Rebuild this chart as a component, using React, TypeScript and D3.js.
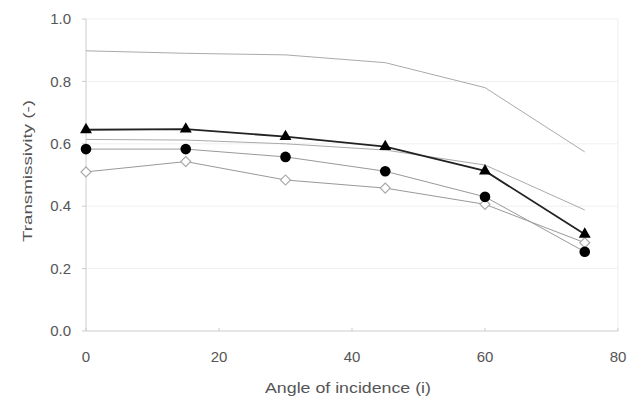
import React from "react";
import * as d3 from "d3";

const angles = [0, 15, 30, 45, 60, 75];
const topGray = [0.898, 0.89, 0.885, 0.86, 0.78, 0.574];
const triangleSeries = [0.645, 0.647, 0.623, 0.591, 0.513, 0.31];
const midGray = [0.614, 0.612, 0.6, 0.58, 0.532, 0.388];
const circleSeries = [0.583, 0.583, 0.558, 0.512, 0.43, 0.254];
const diamondSeries = [0.51, 0.543, 0.484, 0.458, 0.406, 0.283];
const xTicks = [0, 20, 40, 60, 80];
const yTicks = [0, 0.2, 0.4, 0.6, 0.8, 1.0];

const W = 634;
const H = 399;
const left = 86, right = 618, top = 19, bottom = 331;

export default function App() {
  const x = d3.scaleLinear().domain([0, 80]).range([left, right]);
  const y = d3.scaleLinear().domain([0, 1]).range([bottom, top]);
  const line = (vals: number[]) =>
    d3.line<number>().x((_, i) => x(angles[i])).y((d) => y(d))(vals) || "";
  const tri = d3.symbol().type(d3.symbolTriangle).size(62)() || "";
  const dia = d3.symbol().type(d3.symbolSquare).size(50)() || "";
  const font = "'Liberation Sans', Arial, sans-serif";
  return (
    <svg width={W} height={H} style={{ position: "absolute", left: 0, top: 0, background: "#fff" }}>
      {yTicks.map((t) => (
        <g key={t}>
          {t > 0 && <line x1={left} x2={right} y1={y(t)} y2={y(t)} stroke="#efefef" strokeWidth={1} />}
          <line x1={left - 4} x2={left} y1={y(t)} y2={y(t)} stroke="#cccccc" />
          <text x={71} y={y(t)} dy="0.35em" textAnchor="end" fontSize={15} fill="#555" fontFamily={font}>
            {t.toFixed(1)}
          </text>
        </g>
      ))}
      <line x1={right} x2={right} y1={top} y2={bottom} stroke="#eeeeee" />
      <line x1={left} x2={left} y1={top} y2={bottom} stroke="#cccccc" />
      <line x1={left} x2={right} y1={bottom} y2={bottom} stroke="#cccccc" />
      {xTicks.map((t) => (
        <g key={t}>
          <line x1={x(t)} x2={x(t)} y1={bottom} y2={bottom - 3} stroke="#cccccc" />
          <text x={x(t)} y={357} dy="0.35em" textAnchor="middle" fontSize={15} fill="#555" fontFamily={font}>
            {t}
          </text>
        </g>
      ))}
      <text x={348} y={388} dy="0.35em" textAnchor="middle" fontSize={14} fill="#555" fontFamily={font}
        textLength={166} lengthAdjust="spacingAndGlyphs">
        Angle of incidence (i)
      </text>
      <text transform={`translate(27,171) rotate(-90)`} dy="0.35em" textAnchor="middle" fontSize={13} fill="#555" fontFamily={font}
        textLength={142} lengthAdjust="spacingAndGlyphs">
        Transmissivity (-)
      </text>

      <path d={line(topGray)} fill="none" stroke="#aaa" strokeWidth={1} />
      <path d={line(midGray)} fill="none" stroke="#aaa" strokeWidth={1} />
      <path d={line(diamondSeries)} fill="none" stroke="#999" strokeWidth={1} />
      <path d={line(circleSeries)} fill="none" stroke="#999" strokeWidth={1} />
      <path d={line(triangleSeries)} fill="none" stroke="#222" strokeWidth={1.8} />

      {diamondSeries.map((v, i) => (
        <path key={"d" + i} d={dia} transform={`translate(${x(angles[i])},${y(v)}) rotate(45)`} fill="#fff" stroke="#aaa" strokeWidth={1.2} />
      ))}
      {circleSeries.map((v, i) => (
        <circle key={"c" + i} cx={x(angles[i])} cy={y(v)} r={5.3} fill="#000" />
      ))}
      {triangleSeries.map((v, i) => (
        <path key={"t" + i} d={tri} transform={`translate(${x(angles[i])},${y(v)})`} fill="#000" />
      ))}
    </svg>
  );
}
